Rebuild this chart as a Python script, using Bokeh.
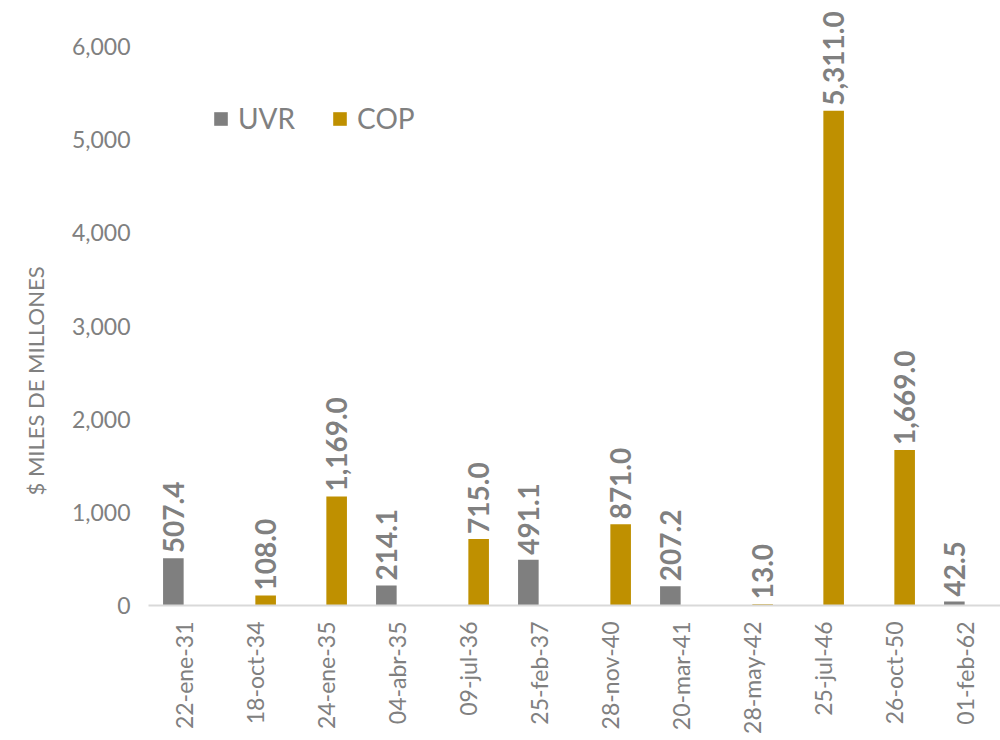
import math
from bokeh.plotting import figure
from bokeh.models import (ColumnDataSource, FactorRange, Range1d, NumeralTickFormatter,
                          FixedTicker, Legend, LegendItem, Title)
from bokeh.transform import dodge
from bokeh.core.properties import value
from bokeh.embed import file_html
from bokeh.resources import INLINE

dates = ["22-ene-31", "18-oct-34", "24-ene-35", "04-abr-35", "09-jul-36", "25-feb-37",
         "28-nov-40", "20-mar-41", "28-may-42", "25-jul-46", "26-oct-50", "01-feb-62"]
uvr = [507.4, 0, 0, 214.1, 0, 491.1, 0, 207.2, 0, 0, 0, 42.5]
cop = [0, 108.0, 1169.0, 0, 715.0, 0, 871.0, 0, 13.0, 5311.0, 1669.0, 0]
series_names = ["UVR", "COP"]
y_ticks = [0, 1000, 2000, 3000, 4000, 5000, 6000]
y_title = "$ MILES DE MILLONES"

GRAY = "#7f7f7f"
GOLD = "#bf9000"
TXT = "#808080"
FONT = "Lato"

src = ColumnDataSource(dict(date=dates, uvr=uvr, cop=cop))

uvr_lab = ColumnDataSource(dict(
    date=[d for d, v in zip(dates, uvr) if v > 0],
    val=[v for v in uvr if v > 0],
    txt=[f"{v:,.1f}" for v in uvr if v > 0]))
cop_lab = ColumnDataSource(dict(
    date=[d for d, v in zip(dates, cop) if v > 0],
    val=[v for v in cop if v > 0],
    txt=[f"{v:,.1f}" for v in cop if v > 0]))

p = figure(width=1000, height=740, x_range=FactorRange(*dates), y_range=Range1d(0, 6494),
           output_backend="svg", toolbar_location=None,
           min_border_left=148, min_border_right=0, min_border_top=0, min_border_bottom=135)

off = 0.15
w = 0.29
r1 = p.vbar(x=dodge("date", -off, range=p.x_range), top="uvr", width=w, source=src,
            fill_color=GRAY, line_color=None)
r2 = p.vbar(x=dodge("date", off, range=p.x_range), top="cop", width=w, source=src,
            fill_color=GOLD, line_color=None)

for s, o in ((uvr_lab, -off), (cop_lab, off)):
    p.text(x=dodge("date", o, range=p.x_range), y="val", text="txt", source=s,
           angle=math.pi / 2, text_align="left", text_baseline="middle",
           y_offset=-5, text_font=value(FONT), text_font_style="bold",
           text_font_size="28px", text_color=TXT)

p.outline_line_color = None
p.xgrid.grid_line_color = None
p.ygrid.grid_line_color = None

p.yaxis.ticker = FixedTicker(ticks=y_ticks)
p.yaxis.formatter = NumeralTickFormatter(format="0,0")
p.yaxis.axis_line_color = None
p.yaxis.major_tick_line_color = None
p.yaxis.minor_tick_line_color = None
p.yaxis.major_label_standoff = 12
p.yaxis.major_label_text_font = FONT
p.yaxis.major_label_text_font_size = "23px"
p.yaxis.major_label_text_color = TXT

ttl_kw = dict(text=y_title, align="left", offset=110, text_font=FONT,
              text_font_size="22px", text_font_style="normal", text_color=TXT)
if "standoff" in Title.properties():
    ttl_kw["standoff"] = 39
p.add_layout(Title(**ttl_kw), "left")

p.xaxis.axis_line_color = "#d9d9d9"
p.xaxis.axis_line_width = 2
p.xaxis.major_tick_line_color = None
p.xaxis.minor_tick_line_color = None
p.xaxis.major_label_orientation = math.pi / 2
p.xaxis.major_label_standoff = 10
p.xaxis.major_label_text_font = FONT
p.xaxis.major_label_text_font_size = "23px"
p.xaxis.major_label_text_color = TXT
p.x_range.range_padding = 0
p.x_range.group_padding = 0

legend = Legend(items=[LegendItem(label=series_names[0], renderers=[r1]),
                       LegendItem(label=series_names[1], renderers=[r2])],
                location=(64, 470), orientation="horizontal")
legend.border_line_color = None
legend.background_fill_alpha = 0
legend.padding = 0
legend.margin = 0
legend.spacing = 36
legend.glyph_width = 17
legend.glyph_height = 17
legend.label_standoff = 9
legend.label_text_font = FONT
legend.label_text_font_size = "28px"
legend.label_text_color = TXT
p.add_layout(legend, "center")

open("out.html", "w").write(file_html(p, INLINE))
